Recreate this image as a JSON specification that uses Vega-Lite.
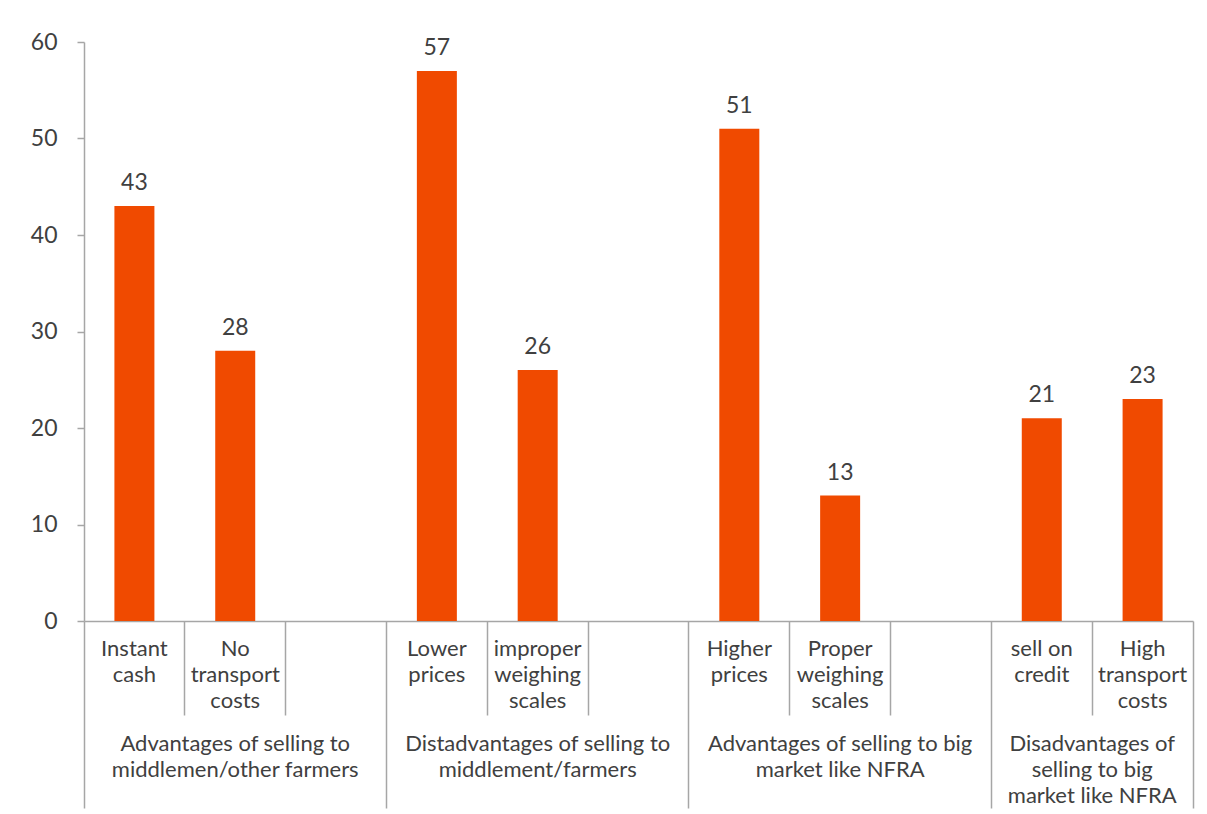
{
  "$schema": "https://vega.github.io/schema/vega-lite/v6.json",
  "autosize": {"type": "none"},
  "padding": {"left": 84, "top": 42, "right": 14, "bottom": 193},
  "width": 1109,
  "height": 579,
  "background": "white",
  "config": {"view": {"stroke": null}, "font": "Lato"},
  "data": {"values": [
    {"item": "Instant|cash", "value": 43},
    {"item": "No|transport|costs", "value": 28},
    {"item": "Lower|prices", "value": 57},
    {"item": "improper|weighing|scales", "value": 26},
    {"item": "Higher|prices", "value": 51},
    {"item": "Proper|weighing|scales", "value": 13},
    {"item": "sell on|credit", "value": 21},
    {"item": "High|transport|costs", "value": 23}
  ]},
  "layer": [
    {
      "mark": {"type": "bar", "color": "#F04A00", "size": 40},
      "encoding": {
        "x": {
          "field": "item", "type": "nominal", "sort": null,
          "scale": {"domain": ["Instant|cash", "No|transport|costs", "gap1", "Lower|prices", "improper|weighing|scales", "gap2", "Higher|prices", "Proper|weighing|scales", "gap3", "sell on|credit", "High|transport|costs"], "paddingInner": 0, "paddingOuter": 0},
          "axis": {
            "title": null, "orient": "bottom", "grid": false,
            "domain": true, "domainColor": "#A6A6A6", "domainWidth": 1.5,
            "ticks": true, "bandPosition": 1, "tickExtra": true, "tickColor": "#A6A6A6", "tickWidth": 1.5,
            "tickSize": {"condition": {"test": "datum.extra || datum.value == 'gap1' || datum.value == 'gap2' || datum.value == 'gap3' || datum.value == 'High|transport|costs'", "value": 187}, "value": 94},
            "labelExpr": "(datum.extra || !isString(datum.value) || indexof(datum.value, 'gap') == 0) ? '' : split(datum.value, '|')",
            "labelAngle": 0, "labelAlign": "center", "labelBaseline": "top",
            "labelFontSize": 22, "labelColor": "#404040", "labelLineHeight": 26, "labelLimit": 0,
            "labelPadding": {"condition": {"test": "datum.value == 'High|transport|costs'", "value": -170}, "value": -77},
            "labelOverlap": false, "labelBound": false
          }
        },
        "y": {
          "field": "value", "type": "quantitative",
          "scale": {"domain": [0, 60]},
          "axis": {
            "title": null, "grid": false, "values": [0, 10, 20, 30, 40, 50, 60],
            "domainColor": "#A6A6A6", "domainWidth": 1.5,
            "tickColor": "#A6A6A6", "tickWidth": 1.5, "tickSize": 7,
            "labelPadding": 20, "labelFontSize": 23, "labelColor": "#404040"
          }
        }
      }
    },
    {
      "mark": {"type": "text", "dy": -16, "baseline": "alphabetic", "fontSize": 23, "color": "#404040"},
      "encoding": {
        "x": {
          "field": "item", "type": "nominal", "sort": null,
          "axis": {
            "title": null, "orient": "bottom", "grid": false, "domain": false, "ticks": false,
            "values": ["No|transport|costs", "improper|weighing|scales", "Proper|weighing|scales", "High|transport|costs"],
            "labelExpr": "split(datum.value == 'No|transport|costs' ? 'Advantages of selling to|middlemen/other farmers' : datum.value == 'improper|weighing|scales' ? 'Distadvantages of selling to|middlement/farmers' : datum.value == 'Proper|weighing|scales' ? 'Advantages of selling to big|market like NFRA' : 'Disadvantages of|selling to big|market like NFRA', '|')",
            "labelAngle": 0, "labelAlign": "center", "labelBaseline": "top",
            "labelFontSize": 22, "labelColor": "#404040", "labelLineHeight": 26, "labelLimit": 0,
            "labelPadding": 112,
            "labelOffset": {"condition": {"test": "datum.value == 'High|transport|costs'", "value": -50.4}, "value": 0},
            "labelOverlap": false, "labelBound": false
          }
        },
        "y": {"field": "value", "type": "quantitative"},
        "text": {"field": "value", "type": "quantitative"}
      }
    }
  ],
  "resolve": {"axis": {"x": "independent"}}
}
